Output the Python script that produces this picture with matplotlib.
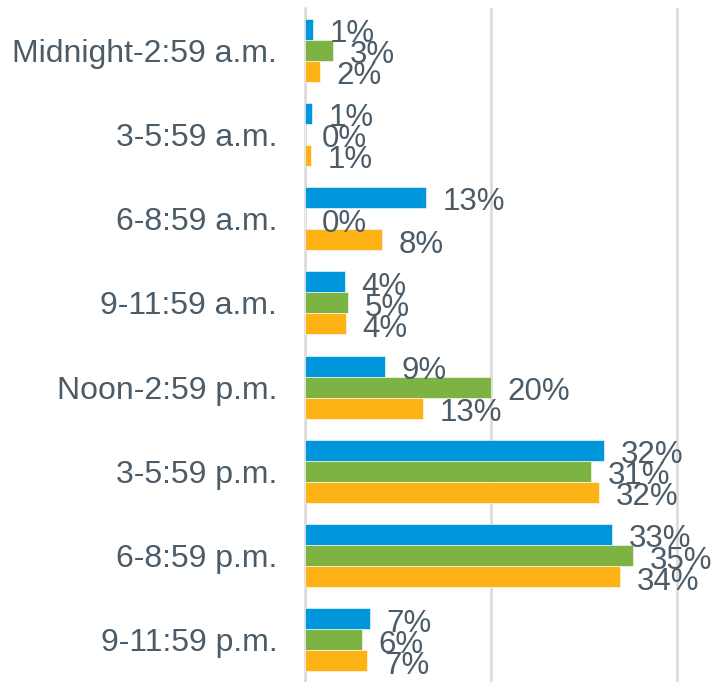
import numpy as np
import matplotlib
matplotlib.use("Agg")
import matplotlib.pyplot as plt

# data (percent)
categories = ["Midnight-2:59 a.m.", "3-5:59 a.m.", "6-8:59 a.m.", "9-11:59 a.m.",
              "Noon-2:59 p.m.", "3-5:59 p.m.", "6-8:59 p.m.", "9-11:59 p.m."]
series_1 = [0.9, 0.8, 13.0, 4.3, 8.6, 32.2, 33.0, 7.0]
series_2 = [3.0, 0.0, 0.0, 4.6, 20.0, 30.8, 35.3, 6.1]
series_3 = [1.6, 0.6, 8.3, 4.4, 12.7, 31.6, 33.9, 6.7]
series_colors = ["#0096DB", "#7CB342", "#FDB316"]

text_color = "#4B5B67"
plt.rcParams["font.family"] = ["Liberation Sans", "DejaVu Sans"]

fig = plt.figure(figsize=(7.14, 6.82), dpi=100)
ax = fig.add_axes([305 / 714, 0.0, 1 - 305 / 714, 1 - 8 / 682])

y = np.arange(len(categories))
h = 0.25
for i, (vals, col) in enumerate(zip([series_1, series_2, series_3], series_colors)):
    pos = y + (i - 1) * h
    ax.barh(pos, vals, height=h, color=col, edgecolor="white", linewidth=0.4, zorder=3)
    for p, v in zip(pos, vals):
        ax.annotate(f"{round(v)}%", xy=(v, p), xytext=(12, -1), textcoords="offset points",
                    ha="left", va="center_baseline", fontsize=22.5, color=text_color, zorder=4)

ax.set_xlim(0, 44)
ax.set_ylim(len(categories) - 0.5, -0.5)
ax.set_xticks([0, 20, 40])
ax.xaxis.grid(True, color="#D9D9D9", linewidth=1.8, zorder=0)
ax.set_yticks(y)
ax.set_yticklabels(categories, fontsize=23, color=text_color)
ax.tick_params(axis="y", length=0, pad=20)
ax.tick_params(axis="x", length=0, labelbottom=False)
for s in ["top", "right", "bottom"]:
    ax.spines[s].set_visible(False)
ax.spines["left"].set_color("#D9D9D9")
ax.spines["left"].set_linewidth(1.8)

fig.savefig("out.png", dpi=100)
